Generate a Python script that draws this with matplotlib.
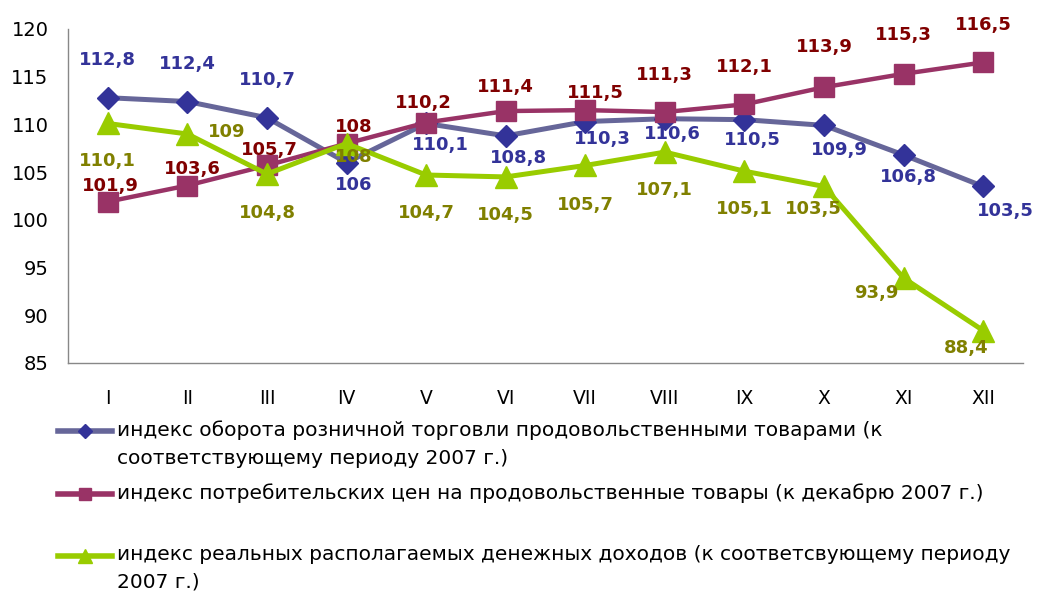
import matplotlib
matplotlib.use("Agg")
import matplotlib.pyplot as plt
from matplotlib.lines import Line2D

# месяцы 2008 г.
months = ["I", "II", "III", "IV", "V", "VI", "VII", "VIII", "IX", "X", "XI", "XII"]
retail = [112.8, 112.4, 110.7, 106, 110.1, 108.8, 110.3, 110.6, 110.5, 109.9, 106.8, 103.5]
prices = [101.9, 103.6, 105.7, 108, 110.2, 111.4, 111.5, 111.3, 112.1, 113.9, 115.3, 116.5]
income = [110.1, 109, 104.8, 108, 104.7, 104.5, 105.7, 107.1, 105.1, 103.5, 93.9, 88.4]

legend_labels = [
    "индекс оборота розничной торговли продовольственными товарами (к\nсоответствующему периоду 2007 г.)",
    "индекс потребительских цен на продовольственные товары (к декабрю 2007 г.)",
    "индекс реальных располагаемых денежных доходов (к соответсвующему периоду\n2007 г.)",
]

# сдвиги подписей в пикселях (dx вправо, dy вниз)
retail_off = [(0, -38), (0, -38), (0, -38), (7, 22), (14, 22), (13, 22),
              (17, 17), (8, 15), (8, 20), (15, 25), (5, 22), (22, 25)]
prices_off = [(3, -16), (5, -17), (2, -15), (7, -17), (-3, -20), (0, -24),
              (10, -17), (0, -37), (0, -37), (0, -40), (0, -39), (0, -37)]
income_off = [(0, 38), (39, -2), (0, 39), (7, 13), (0, 38), (0, 38),
              (0, 40), (0, 38), (0, 38), (-11, 23), (-27, 15), (-17, 17)]

W, H = 1042, 597


def fmt(v):
    return ("%g" % v).replace(".", ",")


def add_labels(ax, values, offsets, color):
    for i, (v, (dx, dy)) in enumerate(zip(values, offsets)):
        ax.annotate(fmt(v), (i, v), xytext=(dx, -dy), textcoords="offset pixels",
                    ha="center", va="center", fontsize=13, fontweight="bold",
                    color=color, zorder=10, annotation_clip=False)


fig = plt.figure(figsize=(W / 100, H / 100), dpi=100)
ax = fig.add_axes([68 / W, 1 - 363 / H, (1023 - 68) / W, (363 - 29) / H])

x = list(range(len(months)))
ax.plot(x, retail, color="#666699", lw=3.6, marker="D", ms=11,
        mfc="#333399", mec="#333399", zorder=3)
ax.plot(x, prices, color="#993366", lw=3.2, marker="s", ms=14.5,
        mfc="#993366", mec="#993366", zorder=4)
ax.plot(x, income, color="#99CC00", lw=3.6, marker="^", ms=16,
        mfc="#99CC00", mec="#99CC00", zorder=5)

add_labels(ax, retail, retail_off, "#333399")
add_labels(ax, prices, prices_off, "#800000")
add_labels(ax, income, income_off, "#808000")

ax.set_xlim(-0.5, 11.5)
ax.set_ylim(85, 120)
ax.set_yticks(range(85, 121, 5))
ax.set_xticks(x)
ax.set_xticklabels(months)
ax.tick_params(axis="y", length=0, pad=14, labelsize=14)
ax.tick_params(axis="x", length=0, pad=19, labelsize=13.5)
for s in ["top", "right"]:
    ax.spines[s].set_visible(False)
for s in ["left", "bottom"]:
    ax.spines[s].set_color("#888888")
    ax.spines[s].set_linewidth(1)

# легенда вручную, как в исходной диаграмме
legend_style = [
    ("#666699", "D", 7, "#333399", 431),
    ("#993366", "s", 8, "#993366", 494),
    ("#99CC00", "^", 10, "#99CC00", 556),
]
for (lc, mk, ms, mc, y), text in zip(legend_style, legend_labels):
    yy = 1 - y / H
    fig.add_artist(Line2D([58 / W, 85 / W, 112 / W], [yy, yy, yy], color=lc, lw=4,
                          marker=mk, ms=ms, mfc=mc, mec=mc, markevery=[1],
                          transform=fig.transFigure))
    # первая строка текста центрируется по линии маркера
    fig.text(117 / W, 1 - (y - 11) / H, text, fontsize=14.5, ha="left",
             va="top", linespacing=1.6, transform=fig.transFigure)

fig.savefig("out.png", dpi=100)
